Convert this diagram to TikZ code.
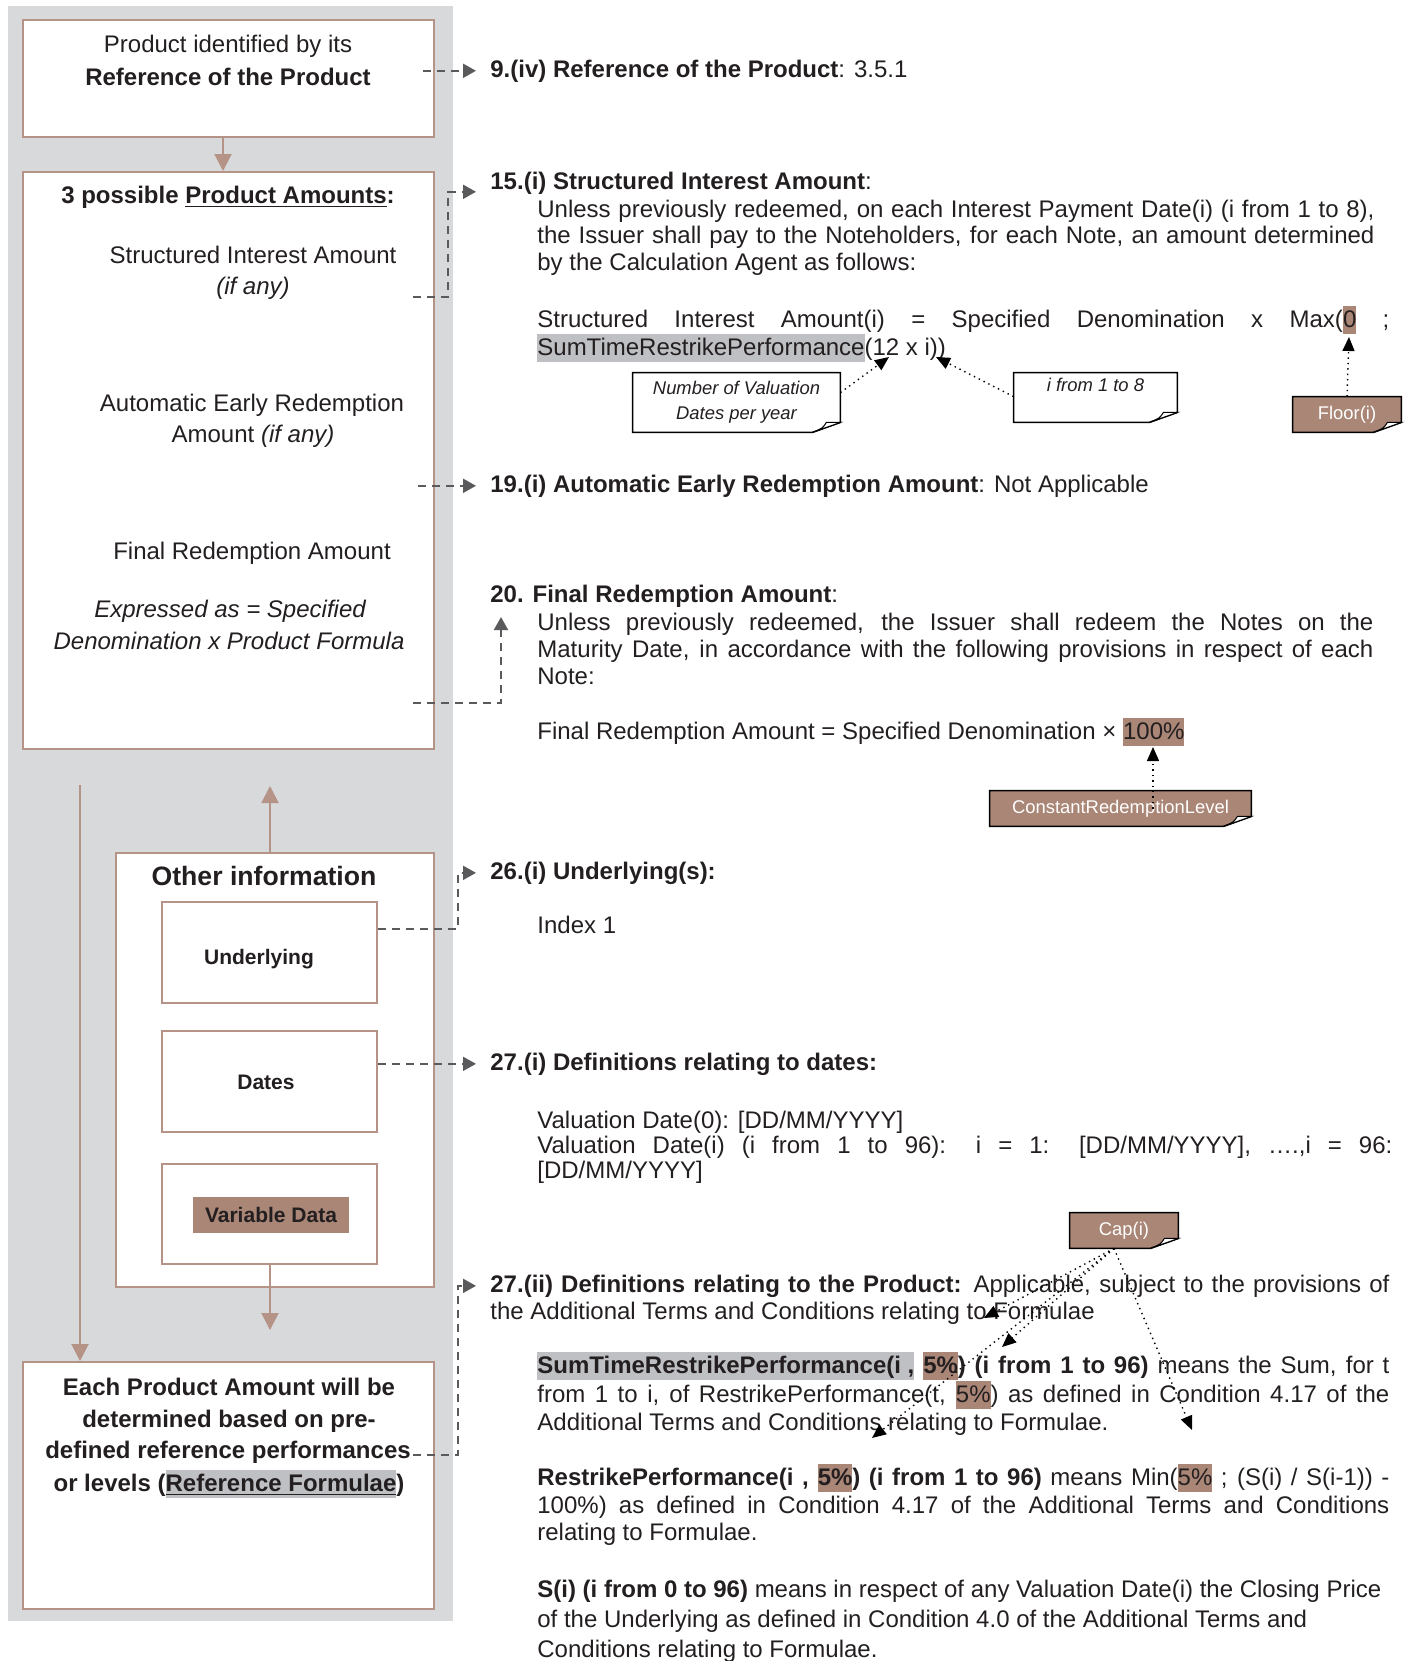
\documentclass[tikz,border=0pt]{standalone}
\usepackage{fontspec}
\setmainfont{Liberation Sans}
\usetikzlibrary{arrows.meta,backgrounds}
\definecolor{panelgray}{RGB}{216,217,219}
\definecolor{framebrown}{RGB}{181,147,135}
\definecolor{tagbrown}{RGB}{170,134,119}
\definecolor{markgray}{RGB}{191,192,195}
\definecolor{linkgray}{RGB}{90,90,92}
\definecolor{ink}{RGB}{35,31,32}
\newcommand{\hlb}[1]{{\setlength{\fboxsep}{0pt}\colorbox{tagbrown}{\rule[-3.5pt]{0pt}{14pt}#1}}}
\newcommand{\hlg}[1]{{\setlength{\fboxsep}{0pt}\colorbox{markgray}{\rule[-3.5pt]{0pt}{14pt}#1}}}
\newcommand{\jline}[2]{\makebox[#1][s]{#2}}
\newcommand{\notefold}[2]{%
	\draw[line width=0.8pt,fill=#2] (#1.north west) -- (#1.north east) -- ([yshift=5pt]#1.south east)
		-- ([xshift=-14pt]#1.south east) -- (#1.south west) -- cycle;
	\draw[line width=0.5pt,fill=white] ([xshift=-14pt]#1.south east)
		.. controls ([xshift=-9pt,yshift=2pt]#1.south east) .. ([xshift=-7pt,yshift=5pt]#1.south east)
		-- ([yshift=5pt]#1.south east) -- cycle;}
\tikzset{
	txt/.style={anchor=base west,inner sep=0pt,text=ink,font=\fontsize{12}{14}\selectfont},
	ctxt/.style={anchor=base,inner sep=0pt,text=ink,font=\fontsize{12}{14}\selectfont},
	panelbox/.style={draw=framebrown,line width=1pt,fill=white,inner sep=0pt},
	callout/.style={inner sep=0pt,align=center,text=ink,font=\fontsize{9.2}{12.5}\selectfont\itshape},
	tag/.style={inner sep=0pt,align=center,text=white,font=\fontsize{9.2}{12.5}\selectfont},
	link/.style={draw=linkgray,line width=1pt,dash pattern=on 4pt off 3pt,-{Triangle[length=6.5pt,width=7pt]}},
	flow/.style={draw=framebrown,line width=1pt,-{Triangle[length=8.5pt,width=8.5pt]}},
	pointer/.style={draw=black,line width=0.7pt,dotted,-{Triangle[length=7pt,width=6pt]}}
}
\begin{document}
\begin{tikzpicture}[x=0.5pt,y=-0.5pt]
	\useasboundingbox (0,0) rectangle (1409,1661);
	\fill[panelgray] (8,6) rectangle (453,1621);

	\node[panelbox,minimum width=205.5pt,minimum height=58.5pt] (prodref) at (228.5,78.5) {};
	\node[panelbox,minimum width=205.5pt,minimum height=288.5pt] (amounts) at (228.5,460.5) {};
	\node[panelbox,minimum width=159pt,minimum height=217pt] (other) at (275,1070) {};
	\node[panelbox,minimum width=107.5pt,minimum height=50.5pt] (underbox) at (269.5,952.5) {};
	\node[panelbox,minimum width=107.5pt,minimum height=50.5pt] (datesbox) at (269.5,1081.5) {};
	\node[panelbox,minimum width=107.5pt,minimum height=50pt] (varbox) at (269.5,1214) {};
	\node[fill=tagbrown,inner sep=0pt,minimum width=78pt,minimum height=18pt,text=ink,
		font=\fontsize{10.5}{12}\selectfont\bfseries] (vardata) at (271,1215) {Variable Data};
	\node[panelbox,minimum width=205.5pt,minimum height=123.5pt] (basis) at (228.5,1485.5) {};

	\node[ctxt] (pi1) at (228,52) {Product identified by its};
	\node[ctxt,font=\fontsize{12}{14}\selectfont\bfseries] (pi2) at (228,85) {Reference of the Product};
	\node[ctxt,font=\fontsize{12}{14}\selectfont\bfseries] (am0) at (228,203) {3 possible \underline{Product Amounts}:};
	\node[ctxt] (am1) at (253,263) {Structured Interest Amount};
	\node[ctxt] (am2) at (253,294) {\itshape (if any)};
	\node[ctxt] (am3) at (252,411) {Automatic Early Redemption};
	\node[ctxt] (am4) at (253,442) {Amount \textit{(if any)}};
	\node[ctxt] (am5) at (252,559) {Final Redemption Amount};
	\node[ctxt,font=\fontsize{12}{14}\selectfont\itshape] (am6) at (230,617) {Expressed as = Specified};
	\node[ctxt,font=\fontsize{12}{14}\selectfont\itshape] (am7) at (229,649) {Denomination x Product Formula};
	\node[ctxt,font=\fontsize{13.3}{16}\selectfont\bfseries] (ot0) at (264,885) {Other information};
	\node[ctxt,font=\fontsize{10.5}{12}\selectfont\bfseries] (ot1) at (259,964) {Underlying};
	\node[ctxt,font=\fontsize{10.5}{12}\selectfont\bfseries] (ot2) at (266,1089) {Dates};
	\node[ctxt,font=\fontsize{12}{14}\selectfont\bfseries] (ba1) at (229,1395) {Each Product Amount will be};
	\node[ctxt,font=\fontsize{12}{14}\selectfont\bfseries] (ba2) at (229,1427) {determined based on pre-};
	\node[ctxt,font=\fontsize{12}{14}\selectfont\bfseries] (ba3) at (228,1458) {defined reference performances};
	\node[ctxt,font=\fontsize{12}{14}\selectfont\bfseries] (ba4) at (229,1491) {or levels (\hlg{\underline{Reference Formulae}})};

	\draw[flow] ([xshift=-2.75pt]prodref.south) -- ([xshift=-2.75pt]amounts.north);
	\coordinate (lefttop) at (80,785);
	\draw[flow] (lefttop) -- (lefttop |- basis.north);
	\coordinate (uptip) at (270,786);
	\draw[flow] (uptip |- other.north) -- (uptip);
	\coordinate (downtip) at (270,1330);
	\draw[flow] (downtip |- varbox.south) -- (downtip);

	\node[txt] (h9) at (490,77) {{\bfseries 9.(iv) Reference of the Product}: 3.5.1};
	\node[txt] (h15) at (490,189) {{\bfseries 15.(i) Structured Interest Amount}:};
	\node[txt] (b15a) at (537,217) {\jline{418.5pt}{Unless previously redeemed, on each Interest Payment Date(i) (i from 1 to 8),}};
	\node[txt] (b15b) at (537,243) {\jline{418.5pt}{the Issuer shall pay to the Noteholders, for each Note, an amount determined}};
	\node[txt] (b15c) at (537,270) {by the Calculation Agent as follows:};
	\node[txt] (f15a) at (537,327) {\jline{426pt}{Structured Interest Amount(i) = Specified Denomination x Max(\hlb{0} ;}};
	\node[txt] (f15b) at (537,355) {\hlg{SumTimeRestrikePerformance}(12 x i))};

	\node[txt] (h19) at (490,492) {{\bfseries 19.(i) Automatic Early Redemption Amount}: Not Applicable};
	\node[txt] (h20) at (490,602) {{\bfseries 20. Final Redemption Amount}:};
	\node[txt] (b20a) at (537,630) {\jline{418pt}{Unless previously redeemed, the Issuer shall redeem the Notes on the}};
	\node[txt] (b20b) at (537,657) {\jline{418pt}{Maturity Date, in accordance with the following provisions in respect of each}};
	\node[txt] (b20c) at (537,684) {Note:};
	\node[txt] (f20) at (537,739) {Final Redemption Amount = Specified Denomination × \hlb{100\%}};

	\node[txt] (h26) at (490,879) {\bfseries 26.(i) Underlying(s):};
	\node[txt] (b26) at (537,933) {Index 1};
	\node[txt] (h27) at (490,1070) {\bfseries 27.(i) Definitions relating to dates:};
	\node[txt] (d27a) at (537,1128) {Valuation Date(0): [DD/MM/YYYY]};
	\node[txt] (d27b) at (537,1153) {\jline{427.5pt}{Valuation Date(i) (i from 1 to 96): i = 1: [DD/MM/YYYY], ….,i = 96:}};
	\node[txt] (d27c) at (537,1178) {[DD/MM/YYYY]};

	\node[txt] (h27b) at (490,1292) {\jline{449.5pt}{{\bfseries 27.(ii) Definitions relating to the Product:} Applicable, subject to the provisions of}};
	\node[txt] (b27b) at (490,1319) {the Additional Terms and Conditions relating to Formulae};
	\node[txt] (s1a) at (537,1373) {\jline{426pt}{\hlg{\bfseries SumTimeRestrikePerformance(i ,} \hlb{\bfseries 5\%}{\bfseries ) (i from 1 to 96)} means the Sum, for t}};
	\node[txt] (s1b) at (537,1402) {\jline{426pt}{from 1 to i, of RestrikePerformance(t, \hlb{5\%}) as defined in Condition 4.17 of the}};
	\node[txt] (s1c) at (537,1430) {Additional Terms and Conditions relating to Formulae.};
	\node[txt] (r1a) at (537,1485) {\jline{426pt}{{\bfseries RestrikePerformance(i , \hlb{5\%}) (i from 1 to 96)} means Min(\hlb{5\%} ; (S(i) / S(i-1)) -}};
	\node[txt] (r1b) at (537,1513) {\jline{426pt}{100\%) as defined in Condition 4.17 of the Additional Terms and Conditions}};
	\node[txt] (r1c) at (537,1540) {relating to Formulae.};
	\node[txt] (si1) at (537,1597) {{\bfseries S(i) (i from 0 to 96)} means in respect of any Valuation Date(i) the Closing Price};
	\node[txt] (si2) at (537,1627) {of the Underlying as defined in Condition 4.0 of the Additional Terms and};
	\node[txt] (si3) at (537,1657) {Conditions relating to Formulae.};

	\coordinate (s15) at (413,297);
	\coordinate (s20) at (413,703);
	\coordinate (t20) at (501,617);
	\coordinate (s27) at (413,1455);
	\draw[link] ([xshift=-33.5pt]h9.west) -- ([xshift=-7pt]h9.west);
	\draw[link] (s15) -| ([xshift=-21pt,yshift=-4.5pt]h15.west) -- ([xshift=-7pt,yshift=-4.5pt]h15.west);
	\draw[link] ([xshift=-36pt]h19.west) -- ([xshift=-7pt]h19.west);
	\draw[link] (s20) -| (t20);
	\draw[link] ([yshift=11.75pt]underbox.east) -| ([xshift=-16pt]h26.west) -- ([xshift=-7pt]h26.west);
	\draw[link] (datesbox.east |- h27.west) -- ([xshift=-7pt]h27.west);
	\draw[link] (s27) -| ([xshift=-16pt]h27b.west) -- ([xshift=-7pt]h27b.west);

	\node[callout,minimum width=103.5pt,minimum height=29.5pt] (nvd) at (736.5,402.5) {Number of Valuation\\Dates per year};
	\node[callout,minimum width=81.5pt,minimum height=24.5pt] (ifrom) at (1095.5,397.5) {i from 1 to 8\\~};
	\node[tag,minimum width=54pt,minimum height=17.5pt] (floor) at (1347,414.5) {Floor(i)};
	\node[tag,minimum width=130.5pt,minimum height=17.5pt] (crl) at (1120.5,808.5) {ConstantRedemptionLevel};
	\node[tag,minimum width=54pt,minimum height=17.5pt] (cap) at (1124,1230.5) {Cap(i)};
	\begin{scope}[on background layer]
		\notefold{nvd}{white}
		\notefold{ifrom}{white}
		\notefold{floor}{tagbrown}
		\notefold{crl}{tagbrown}
		\notefold{cap}{tagbrown}
	\end{scope}

	\coordinate (p12) at (889,357);
	\coordinate (pi) at (936,357);
	\coordinate (p0) at (1349,337);
	\coordinate (p100) at (1153,747);
	\coordinate (pc1) at (984,1318);
	\coordinate (pc2) at (1002,1347);
	\coordinate (pc3) at (872,1438);
	\coordinate (pc4) at (1192,1430);
	\draw[pointer] ([yshift=-10pt]nvd.north east) -- (p12);
	\draw[pointer] ([yshift=-12pt]ifrom.north west) -- (pi);
	\draw[pointer] (floor.north) -- (p0);
	\draw[pointer] ([xshift=16.25pt]crl.center) -- (p100);
	\foreach \t in {pc1,pc2,pc3,pc4}
		\draw[pointer] ([xshift=-5pt]cap.south) -- (\t);
\end{tikzpicture}
\end{document}
